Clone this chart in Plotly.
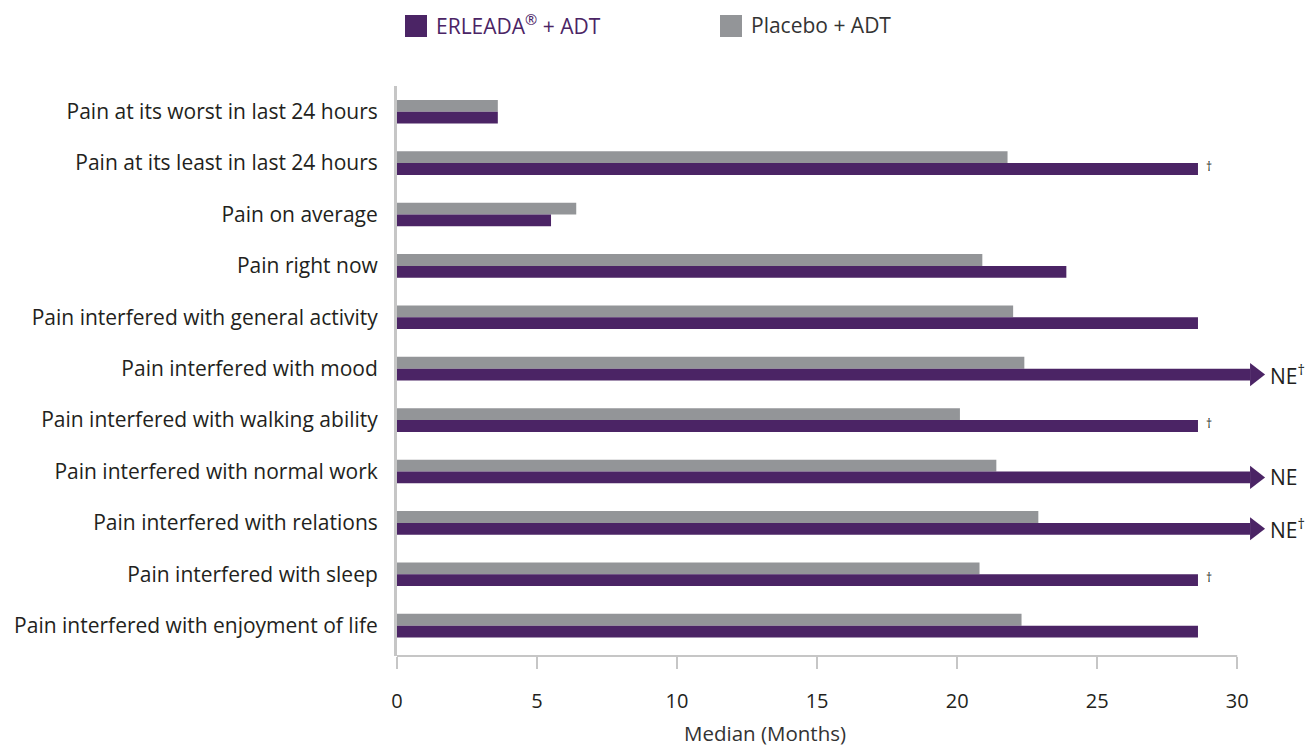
import plotly.graph_objects as go

# ---- data -------------------------------------------------------------
categories = [
    "Pain at its worst in last 24 hours",
    "Pain at its least in last 24 hours",
    "Pain on average",
    "Pain right now",
    "Pain interfered with general activity",
    "Pain interfered with mood",
    "Pain interfered with walking ability",
    "Pain interfered with normal work",
    "Pain interfered with relations",
    "Pain interfered with sleep",
    "Pain interfered with enjoyment of life",
]
# median months; None = not estimable (NE)
erleada_values = [3.6, 28.6, 5.5, 23.9, 28.6, None, 28.6, None, None, 28.6, 28.6]
placebo_values = [3.6, 21.8, 6.4, 20.9, 22.0, 22.4, 20.1, 21.4, 22.9, 20.8, 22.3]
erleada_notes = ["", "†", "", "", "", "†", "†", "", "†", "†", ""]
x_ticks = [0, 5, 10, 15, 20, 25, 30]

# ---- styling / layout constants --------------------------------------
PURPLE = "#4b2465"
GRAY = "#939598"
TEXT = "#231f20"
AXIS = "#c6c6c6"
FONT = "'Open Sans', Lato, sans-serif"

W, H = 1309, 747
M_L, M_R, M_T, M_B = 397, 27, 86, 91
X_MAX = 31.6
NE_LEN = 30.46          # drawn length of an open-ended (NE) bar
BAR_W = 0.23            # bar thickness in category units
Y_PAD_BOTTOM = 0.59     # extra room between last row and the value axis

plot_w = W - M_L - M_R
plot_h = H - M_T - M_B
px_per_unit = plot_w / X_MAX

pos = list(range(len(categories)))
erleada_draw = [NE_LEN if v is None else v for v in erleada_values]

fig = go.Figure()

fig.add_trace(go.Bar(
    y=pos, x=placebo_values, orientation="h",
    width=BAR_W, offset=-BAR_W,
    marker=dict(color=GRAY, line=dict(width=0)),
    name="Placebo + ADT", showlegend=False, hoverinfo="x",
))
fig.add_trace(go.Bar(
    y=pos, x=erleada_draw, orientation="h",
    width=BAR_W, offset=0,
    marker=dict(color=PURPLE, line=dict(width=0)),
    name="ERLEADA® + ADT", showlegend=False, hoverinfo="x",
))

# arrowheads for NE bars
ne_idx = [i for i, v in enumerate(erleada_values) if v is None]
fig.add_trace(go.Scatter(
    x=[NE_LEN + 5 / px_per_unit for _ in ne_idx],
    y=[i + BAR_W / 2 for i in ne_idx],
    mode="markers",
    marker=dict(symbol="triangle-right", size=20, color=PURPLE, line=dict(width=0)),
    showlegend=False, hoverinfo="skip", cliponaxis=False,
))

annotations = []
for i, (v, note) in enumerate(zip(erleada_values, erleada_notes)):
    yc = i + BAR_W / 2
    if v is None:
        txt = "NE" + (f"<sup>{note}</sup>" if note else "")
        annotations.append(dict(
            x=NE_LEN, y=yc, xref="x", yref="y", text=txt, showarrow=False,
            xanchor="left", yanchor="middle", xshift=18, yshift=0,
            font=dict(family=FONT, size=21, color=TEXT),
        ))
    elif note:
        annotations.append(dict(
            x=v, y=yc, xref="x", yref="y", text=note, showarrow=False,
            xanchor="left", yanchor="middle", xshift=6, yshift=3,
            font=dict(family=FONT, size=12, color=TEXT),
        ))


def px_to_paper_x(px):
    return (px - M_L) / plot_w


def px_to_paper_y(py):
    return (H - M_B - py) / plot_h


# legend drawn as swatches + labels
shapes = []
legend_items = [
    (405, 427, PURPLE, "ERLEADA<sup>®</sup> + ADT", PURPLE),
    (720, 742, GRAY, "Placebo + ADT", "#333333"),
]
for x0, x1, col, label, tcol in legend_items:
    shapes.append(dict(
        type="rect", xref="paper", yref="paper",
        x0=px_to_paper_x(x0), x1=px_to_paper_x(x1),
        y0=px_to_paper_y(37), y1=px_to_paper_y(15),
        fillcolor=col, line=dict(width=0),
    ))
    annotations.append(dict(
        x=px_to_paper_x(x1 + 7), y=px_to_paper_y(25), xref="paper", yref="paper",
        text=label, showarrow=False, xanchor="left", yanchor="middle",
        font=dict(family=FONT, size=21, color=tcol),
    ))

# value-axis title
annotations.append(dict(
    x=px_to_paper_x(765), y=px_to_paper_y(733), xref="paper", yref="paper",
    text="Median (Months)", showarrow=False, xanchor="center", yanchor="middle",
    font=dict(family=FONT, size=20.5, color="#333333"),
))

# baseline of the value axis, from 0 to the last tick
shapes.append(dict(
    type="line", xref="x", yref="paper", x0=0, x1=x_ticks[-1], y0=0, y1=0,
    line=dict(color=AXIS, width=2), layer="below",
))

fig.update_layout(
    width=W, height=H,
    margin=dict(l=M_L, r=M_R, t=M_T, b=M_B, pad=0),
    plot_bgcolor="white", paper_bgcolor="white",
    barmode="overlay",
    font=dict(family=FONT, size=21, color=TEXT),
    shapes=shapes, annotations=annotations,
    xaxis=dict(
        range=[0, X_MAX], tickvals=x_ticks, ticktext=[str(t) for t in x_ticks],
        showgrid=False, zeroline=False, showline=False,
        ticks="outside", ticklen=12, tickwidth=2, tickcolor=AXIS,
        ticklabelstandoff=15,
        tickfont=dict(family=FONT, size=20, color=TEXT),
    ),
    yaxis=dict(
        range=[len(categories) - 1 + Y_PAD_BOTTOM, -0.5],
        tickvals=pos, ticktext=categories,
        showgrid=False, zeroline=False,
        showline=True, linecolor=AXIS, linewidth=3,
        ticks="", ticklabelstandoff=12,
        tickfont=dict(family=FONT, size=21, color=TEXT),
    ),
)

fig.write_html("out.html")
